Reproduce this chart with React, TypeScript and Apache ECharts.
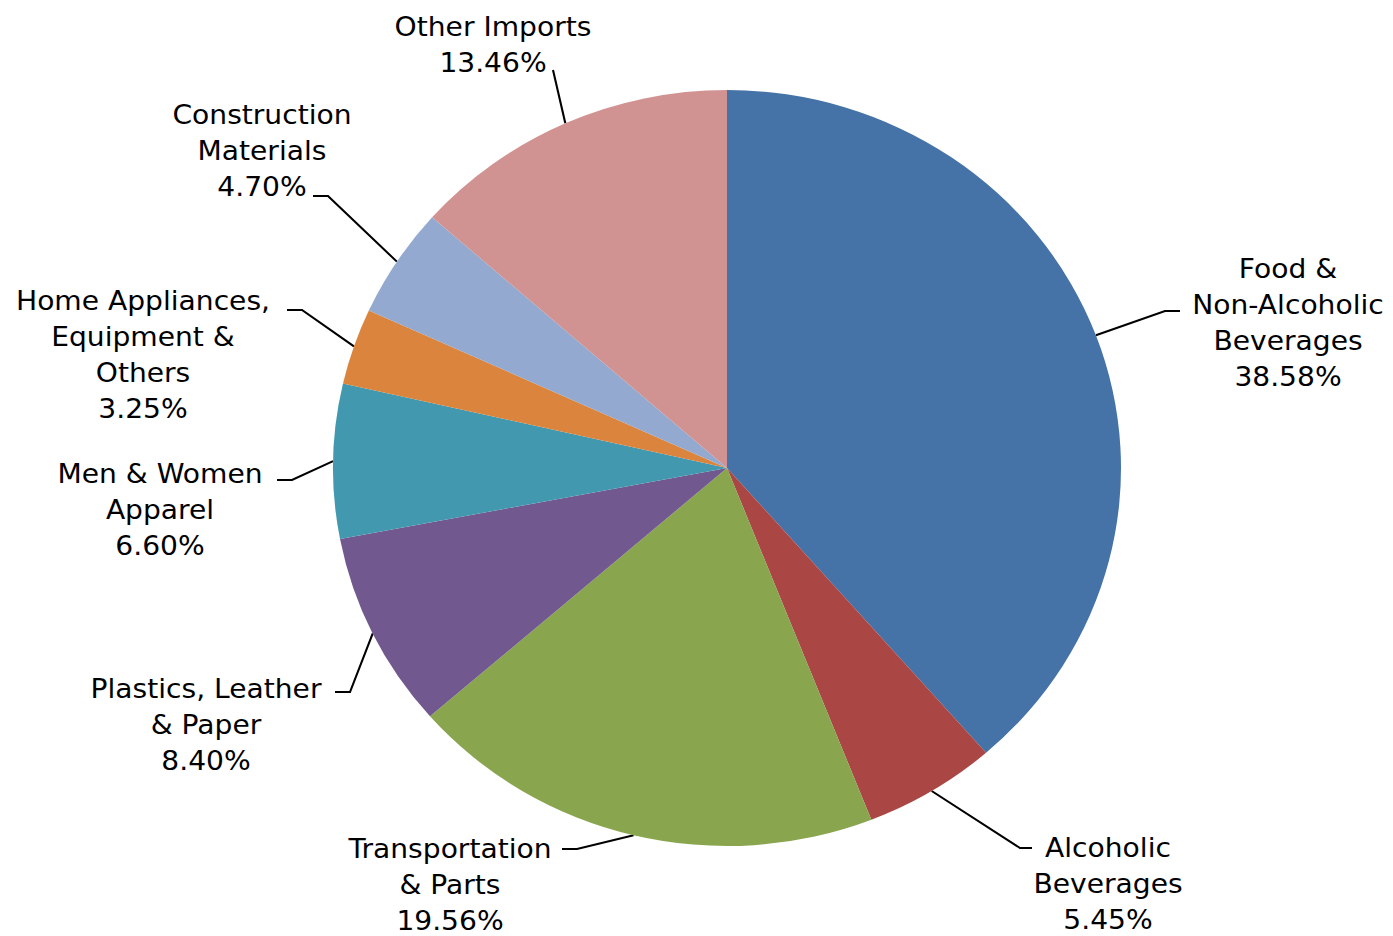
import React, { useEffect, useRef } from "react";
import * as echarts from "echarts";

const categories = [
  "Food & Non-Alcoholic Beverages",
  "Alcoholic Beverages",
  "Transportation & Parts",
  "Plastics, Leather & Paper",
  "Men & Women Apparel",
  "Home Appliances, Equipment & Others",
  "Construction Materials",
  "Other Imports",
];
const labelTexts = [
  "Food &\nNon-Alcoholic\nBeverages",
  "Alcoholic\nBeverages",
  "Transportation\n& Parts",
  "Plastics, Leather\n& Paper",
  "Men & Women\nApparel",
  "Home Appliances,\nEquipment &\nOthers",
  "Construction\nMaterials",
  "Other Imports",
];
const shares = [38.58, 5.45, 19.56, 8.4, 6.6, 3.25, 4.7, 13.46];
const colors = ["#4572A7", "#AA4643", "#89A54E", "#71588F", "#4198AF", "#DB843D", "#93A9CF", "#D19392"];

// label layout (page coords): [textCenterX, textCenterY, elbowX, elbowY, endX, endY]
const labelPos = [
  [1288, 323, 1165, 311, 1180, 311],
  [1108, 884, 1020, 848, 1032, 848],
  [450, 885, 577, 849, 562, 849],
  [206, 725, 350, 692, 335, 692],
  [160, 510, 292, 480, 277, 480],
  [143, 355, 302, 310, 287, 310],
  [262, 151, 328, 196, 313, 196],
  [493, 45, 553, 70, 553, 70],
];

const CX = 727;
const CY = 468;
const R = 378;
const SX = 394 / 378; // horizontal stretch of the reference picture

export default function App() {
  const ref = useRef<HTMLDivElement>(null);
  useEffect(() => {
    if (!ref.current) return;
    const chart = echarts.init(ref.current, undefined, { renderer: "svg" });
    const total = shares.reduce((a, b) => a + b, 0);
    const mids: number[] = [];
    let cum = 0;
    shares.forEach((v) => {
      mids.push((cum + v / 2) / total);
      cum += v;
    });
    const fx = (x: number) => CX + (x - CX) / SX;
    chart.setOption({
      animation: false,
      backgroundColor: "#ffffff",
      series: [
        {
          type: "pie",
          center: [CX, CY],
          radius: R,
          startAngle: 90,
          clockwise: true,
          avoidLabelOverlap: false,
          percentPrecision: 2,
          itemStyle: { borderWidth: 0 },
          label: {
            show: true,
            color: "#000",
            fontFamily: "DejaVu Sans, Arial, sans-serif",
            fontSize: 27,
            lineHeight: 36,
            align: "center",
            formatter: (p: any) => labelTexts[p.dataIndex] + "\n" + shares[p.dataIndex].toFixed(2) + "%",
          },
          labelLine: { show: true, lineStyle: { color: "#000", width: 2 } },
          labelLayout: (p: any) => {
            const i = p.dataIndex;
            const lp = labelPos[i];
            const a = mids[i] * Math.PI * 2;
            const sx = CX + R * Math.sin(a);
            const sy = CY - R * Math.cos(a);
            return {
              x: fx(lp[0]),
              y: lp[1],
              align: "center",
              verticalAlign: "middle",
              labelLinePoints: [
                [sx, sy],
                [fx(lp[2]), lp[3]],
                [fx(lp[4]), lp[5]],
              ],
            };
          },
          data: categories.map((name, i) => ({
            name,
            value: shares[i],
            itemStyle: { color: colors[i] },
          })),
        },
      ],
    });
    return () => chart.dispose();
  }, []);
  return (
    <div
      ref={ref}
      style={{
        position: "absolute",
        left: 0,
        top: 0,
        width: 1393,
        height: 936,
        transform: `scaleX(${SX})`,
        transformOrigin: `${CX}px ${CY}px`,
      }}
    />
  );
}
